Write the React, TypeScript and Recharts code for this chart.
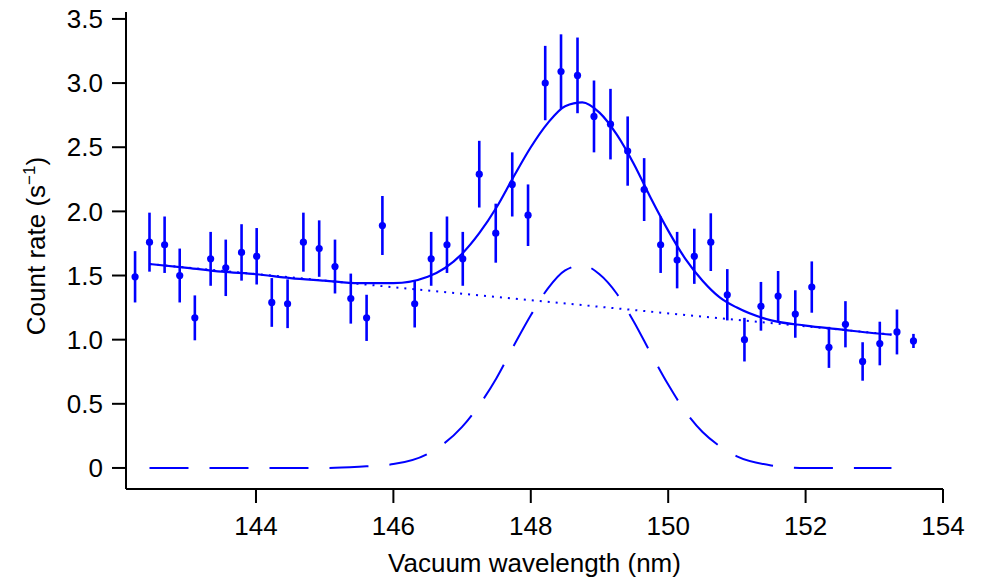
import React from 'react'
import { ComposedChart, Line, Scatter, ErrorBar, XAxis, YAxis } from 'recharts'

// measured points (nm, counts/s, 1-sigma)
const wavelengths = [
  142.24, 142.45, 142.67, 142.89, 143.11, 143.34, 143.56, 143.79, 144.01, 144.23,
  144.46, 144.69, 144.92, 145.15, 145.38, 145.61, 145.84, 146.31, 146.55, 146.78,
  147.01, 147.25, 147.49, 147.73, 147.96, 148.21, 148.44, 148.68, 148.92, 149.16,
  149.41, 149.65, 149.89, 150.13, 150.38, 150.62, 150.86, 151.11, 151.35, 151.6,
  151.85, 152.09, 152.34, 152.58, 152.83, 153.08, 153.33, 153.57,
]
const countRates = [
  1.49, 1.76, 1.74, 1.5, 1.17, 1.63, 1.56, 1.68, 1.65, 1.29,
  1.28, 1.76, 1.71, 1.57, 1.32, 1.17, 1.89, 1.28, 1.63, 1.74,
  1.63, 2.29, 1.83, 2.21, 1.97, 3.0, 3.09, 3.06, 2.74, 2.68,
  2.47, 2.17, 1.74, 1.62, 1.65, 1.76, 1.35, 1.0, 1.26, 1.34,
  1.2, 1.41, 0.94, 1.12, 0.83, 0.97, 1.06, 0.99,
]
const errors = [
  0.2, 0.23, 0.22, 0.21, 0.175, 0.21, 0.22, 0.22, 0.22, 0.19,
  0.19, 0.23, 0.22, 0.21, 0.195, 0.18, 0.23, 0.185, 0.21, 0.22,
  0.21, 0.26, 0.23, 0.25, 0.24, 0.29, 0.29, 0.295, 0.28, 0.275,
  0.27, 0.245, 0.22, 0.22, 0.215, 0.225, 0.2, 0.17, 0.19, 0.195,
  0.185, 0.2, 0.16, 0.18, 0.15, 0.17, 0.175, 0.055,
]

// fitted curve
const fitX = [
  142.45, 143, 143.5, 144, 144.5, 145, 145.5, 146, 146.5, 147,
  147.25, 147.5, 147.75, 148, 148.25, 148.5, 148.75, 149, 149.25, 149.5,
  149.75, 150, 150.25, 150.5, 150.75, 151, 151.5, 152, 152.5, 153, 153.25,
]
const fitY = [
  1.59, 1.56, 1.53, 1.51, 1.48, 1.46, 1.44, 1.44, 1.49, 1.67,
  1.83, 2.03, 2.27, 2.5, 2.69, 2.82, 2.85, 2.77, 2.6, 2.37,
  2.1, 1.85, 1.63, 1.46, 1.33, 1.25, 1.15, 1.11, 1.08, 1.05, 1.04,
]
const peakY = [
  0, 0, 0, 0, 0, 0, 0.01, 0.03, 0.11, 0.32,
  0.49, 0.7, 0.95, 1.19, 1.4, 1.54, 1.58, 1.51, 1.36, 1.14,
  0.89, 0.65, 0.44, 0.28, 0.17, 0.09, 0.02, 0, 0, 0, 0,
]
const backgroundX = [142.45, 153.25]
const backgroundY = [1.59, 1.04]

const xTicks = [144, 146, 148, 150, 152, 154]
const yTicks = [0, 0.5, 1.0, 1.5, 2.0, 2.5, 3.0, 3.5]

const points = wavelengths.map((x, i) => ({ x, y: countRates[i], err: errors[i] }))
const fit = fitX.map((x, i) => ({ x, y: fitY[i] }))
const peak = fitX.map((x, i) => ({ x, y: peakY[i] }))
const background = backgroundX.map((x, i) => ({ x, y: backgroundY[i] }))

const BLUE = '#0000ff'
const FONT = '"Liberation Sans", Arial, Helvetica, sans-serif'
const tickStyle = { fontSize: 26, fill: '#000', fontFamily: FONT }

const Dot = (props: any) => <circle cx={props.cx} cy={props.cy} r={3.6} fill={BLUE} />

export default function App() {
  return (
    <div style={{ position: 'absolute', left: 0, top: 0, background: '#fff' }}>
      <ComposedChart width={989} height={579} margin={{ top: 12, right: 46, left: 0, bottom: 0 }}>
        <XAxis
          type="number"
          dataKey="x"
          domain={[142.108, 154]}
          allowDataOverflow
          ticks={xTicks}
          height={90}
          tickSize={14}
          tickMargin={14}
          tick={tickStyle}
          axisLine={{ stroke: '#000', strokeWidth: 2 }}
          tickLine={{ stroke: '#000', strokeWidth: 2 }}
          label={{ value: 'Vacuum wavelength (nm)', position: 'insideBottom', offset: 7, style: { fontSize: 26, fill: '#000', fontFamily: FONT } }}
        />
        <YAxis
          type="number"
          dataKey="y"
          domain={[-0.164, 3.554]}
          allowDataOverflow
          ticks={yTicks}
          width={126}
          tickSize={14}
          tickMargin={9}
          tick={tickStyle}
          tickFormatter={(v: number) => (v === 0 ? '0' : v.toFixed(1))}
          axisLine={{ stroke: '#000', strokeWidth: 2 }}
          tickLine={{ stroke: '#000', strokeWidth: 2 }}
          label={{
            content: () => (
              <text
                x={45}
                y={246}
                transform="rotate(-90, 45, 246)"
                textAnchor="middle"
                fontSize={26}
                fontFamily={FONT}
                fill="#000"
              >
                Count rate (s<tspan fontSize={17} dy={-10}>−1</tspan><tspan dy={10}>)</tspan>
              </text>
            ),
          }}
        />
        <Line data={background} dataKey="y" type="linear" stroke={BLUE} strokeWidth={2} strokeDasharray="2 6" dot={false} activeDot={false} isAnimationActive={false} />
        <Line data={peak} dataKey="y" type="monotone" stroke={BLUE} strokeWidth={2} strokeDasharray="39 21" dot={false} activeDot={false} isAnimationActive={false} />
        <Line data={fit} dataKey="y" type="monotone" stroke={BLUE} strokeWidth={2.2} dot={false} activeDot={false} isAnimationActive={false} />
        <Scatter data={points} dataKey="y" fill={BLUE} shape={Dot} isAnimationActive={false}>
          <ErrorBar dataKey="err" direction="y" width={0} stroke={BLUE} strokeWidth={2.6} isAnimationActive={false} />
        </Scatter>
      </ComposedChart>
    </div>
  )
}
